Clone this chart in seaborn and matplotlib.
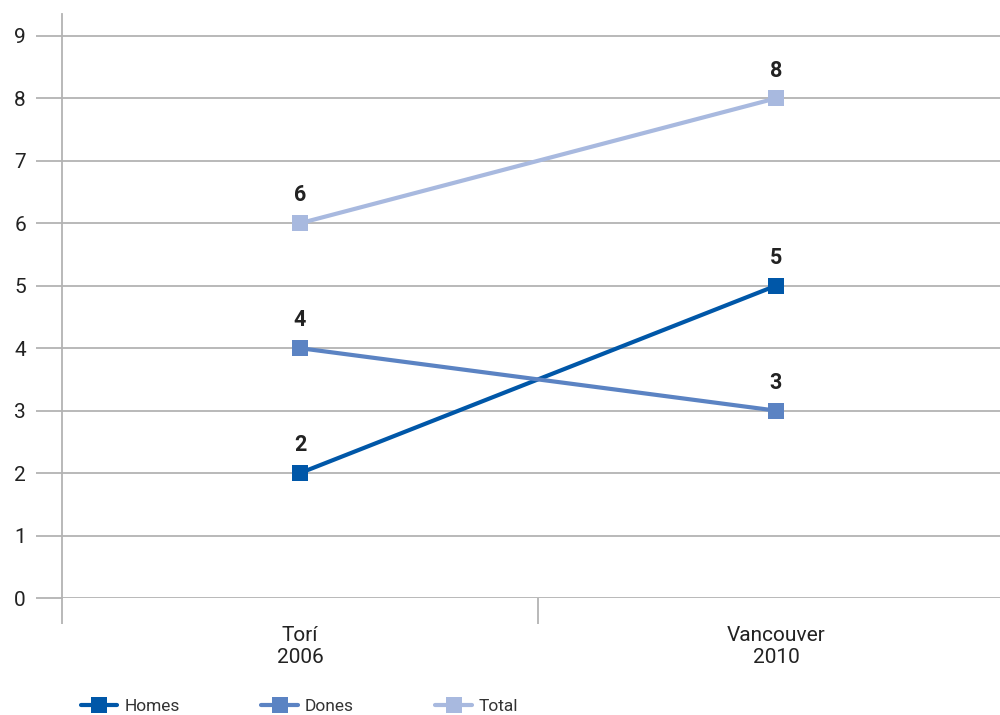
import matplotlib
matplotlib.use("Agg")
import matplotlib.pyplot as plt
import seaborn as sns
import pandas as pd
from matplotlib.lines import Line2D

categories = ["Torí\n2006", "Vancouver\n2010"]
series_names = ["Homes", "Dones", "Total"]
homes = [2, 5]
dones = [4, 3]
total = [6, 8]
colors = ["#0057A8", "#5B83C3", "#A8B9DF"]

rows = []
for name, vals in zip(series_names, [homes, dones, total]):
    for i, v in enumerate(vals):
        rows.append({"pos": i, "value": v, "series": name})
df = pd.DataFrame(rows)

sns.set_theme(style="white")
plt.rcParams["font.family"] = ["Roboto", "DejaVu Sans"]

fig = plt.figure(figsize=(10, 7.15), dpi=100)
ax = fig.add_axes([0.062, 1 - 598 / 715, 1 - 0.062, (598 - 14) / 715])

grid_c = "#B3B3B3"
sns.lineplot(data=df, x="pos", y="value", hue="series", palette=colors,
             marker="s", markersize=11, markeredgewidth=0, linewidth=3.0,
             ax=ax, legend=False, zorder=3)

for name, vals, c in zip(series_names, [homes, dones, total], colors):
    for i, v in enumerate(vals):
        ax.annotate(str(v), (i, v), xytext=(0, 20), textcoords="offset points",
                    ha="center", va="center", fontsize=15.5, fontweight="bold",
                    color="#222222")

ax.set_ylim(0, 9.35)
ax.set_xlim(-0.5, -0.5 + 938 / 476)
ax.set_yticks(range(0, 10))
ax.yaxis.grid(True, color=grid_c, linewidth=1.3)
ax.set_axisbelow(True)
for s in ["top", "right", "bottom"]:
    ax.spines[s].set_visible(False)
ax.spines["left"].set_color(grid_c)
ax.spines["left"].set_linewidth(1.3)

ax.tick_params(axis="y", length=19, width=1.3, color=grid_c, labelsize=15,
               labelcolor="#222222", pad=7, left=True)

ax.set_xticks([-0.5, 0.5])
ax.set_xticklabels(["", ""])
ax.tick_params(axis="x", which="major", length=19, width=1.3, color=grid_c, bottom=True)
ax.set_xticks([0, 1], minor=True)
ax.set_xticklabels(categories, minor=True)
ax.tick_params(axis="x", which="minor", length=0, labelsize=15, labelcolor="#222222", pad=20)
ax.set_xlabel("")
ax.set_ylabel("")

handles = [Line2D([0], [0], color=c, lw=3, marker="s", markersize=12, markeredgewidth=0)
           for c in colors]
fig.legend(handles, series_names, loc="center left", bbox_to_anchor=(0.074, 1 - 706 / 715),
           ncol=3, frameon=False, fontsize=12.5, handlelength=2.1, handletextpad=0.4,
           columnspacing=4.7, labelcolor="#333333", borderaxespad=0)

fig.savefig("out.png", dpi=100)
